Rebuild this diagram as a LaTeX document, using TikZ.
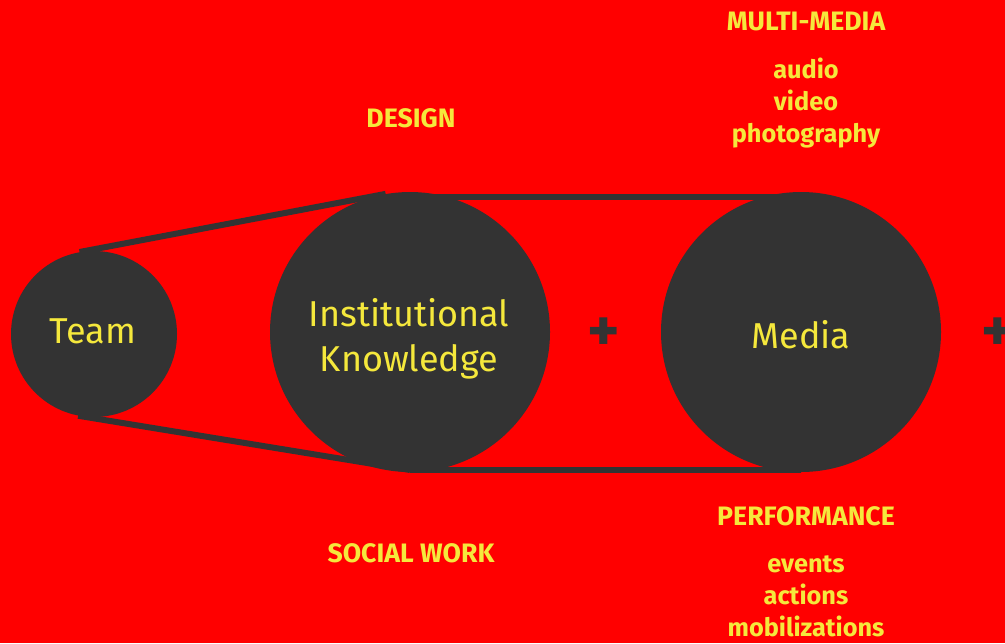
\documentclass[tikz,border=0pt]{standalone}
\usepackage{fontspec}
\setmainfont{Fira Sans}
\definecolor{bgred}{RGB}{255,0,0}
\definecolor{disc}{RGB}{51,51,51}
\definecolor{ylw}{RGB}{245,232,60}
\tikzset{
  disk/.style={circle, fill=disc, draw=none, inner sep=0pt},
  lbl/.style={text=ylw, align=center, inner sep=0pt, font=\fontsize{27}{34}\selectfont},
  belt/.style={draw=disc, line width=4.5pt},
  head/.style={text=ylw, font=\bfseries\fontsize{20}{24}\selectfont, inner sep=0pt},
  item/.style={text=ylw, font=\bfseries\fontsize{19}{22}\selectfont, inner sep=0pt, anchor=base},
  plus/.style={text=disc, font=\bfseries\fontsize{46}{50}\selectfont, inner sep=0pt}
}
\begin{document}
\begin{tikzpicture}[x=0.75pt,y=-0.75pt]
\fill[bgred] (0,0) rectangle (1005,643);
\useasboundingbox (0,0) rectangle (1005,643);
\node[disk, minimum size=124.5pt] (team) at (94,334) {};
\node[disk, minimum size=210pt] (inst) at (410,332) {};
\node[disk, minimum size=210pt] (media) at (801,332) {};
\coordinate (itop) at (410,197);
\coordinate (mtop) at (801,197);
\coordinate (ibot) at (410,470);
\coordinate (mbot) at (801,470);
\draw[belt] (team.100) -- (inst.100);
\draw[belt] (team.259) -- (ibot);
\draw[belt] (itop) -- (mtop);
\draw[belt] (ibot) -- (mbot);
\node[lbl] (teamt) at (93,331) {Team};
\node[lbl] (instt) at (409,339) {Institutional\\Knowledge};
\node[lbl] (mediat) at (801,335) {Media};
\node[plus] (p1) at (604,335) {+};
\node[plus] (p2) at (998,335) {+};
\node[head] (mm) at (806,21) {MULTI-MEDIA};
\node[item] (audio) at (806,78) {audio};
\node[item] (video) at (806,110) {video};
\node[item] (photo) at (806,142) {photography};
\node[head] (design) at (411,118) {DESIGN};
\node[head] (social) at (411,553) {SOCIAL WORK};
\node[head] (perf) at (806,516) {PERFORMANCE};
\node[item] (events) at (806,572) {events};
\node[item] (actions) at (806,604) {actions};
\node[item] (mob) at (806,636) {mobilizations};
\end{tikzpicture}
\end{document}
